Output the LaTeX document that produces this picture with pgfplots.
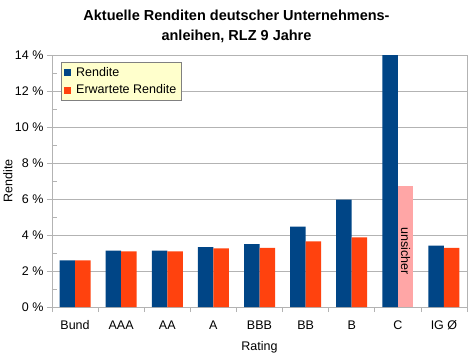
\documentclass[border=0pt]{standalone}
\usepackage{pgfplots}
\pgfplotsset{compat=1.18}
\usepackage{fontspec}
\setmainfont{Liberation Sans}
\definecolor{cblue}{HTML}{004586}
\definecolor{corange}{HTML}{FF420E}
\definecolor{cpink}{HTML}{FFA6A6}
\definecolor{cgrid}{HTML}{B3B3B3}
\definecolor{clegend}{HTML}{FFFFCC}
\begin{document}
\begin{tikzpicture}
\begin{axis}[
  scale only axis, width=415pt, height=252pt,
  xmin=-0.5, xmax=8.5, ymin=0, ymax=14,
  ybar, bar width=15.5pt,
  xtick={0,...,8},
  xticklabels={Bund,AAA,AA,A,BBB,BB,B,C,IG Ø},
  minor xtick={-0.5,0.5,...,8.5},
  ytick={0,2,...,14}, minor ytick={1,3,...,13},
  xtick pos=bottom, ytick pos=left,
  yticklabel={\pgfmathprintnumber{\tick} \%},
  /pgf/number format/assume math mode=true,
  ymajorgrids, major grid style={cgrid, line width=0.7pt},
  axis line style={cgrid, line width=0.7pt},
  tick style={cgrid, line width=0.7pt},
  tick align=outside, major tick length=5pt, minor tick length=5pt,
  every major x tick/.append style={draw=none},
  every minor y tick/.append style={xshift=5pt},
  ticklabel style={font=\fontsize{12.5}{14}\selectfont},
  xticklabel style={yshift=-5pt},
  xlabel={Rating}, ylabel={Rendite},
  every axis y label/.style={at={(axis description cs:-0.106,0.5)}, anchor=center, rotate=90, font=\fontsize{12.5}{14}\selectfont},
  every axis x label/.style={at={(axis description cs:0.5,-0.16)}, anchor=center, font=\fontsize{12.5}{14}\selectfont},
  title={Aktuelle Renditen deutscher Unternehmens-\\anleihen, RLZ 9 Jahre},
  title style={at={(axis description cs:0.4446,1)}, anchor=south, yshift=3pt, align=center,
    font=\bfseries\fontsize{14.5}{19.5}\selectfont},
  legend style={at={(axis description cs:0.0217,0.972)}, anchor=north west,
    fill=clegend, draw=gray, font=\fontsize{12.5}{14}\selectfont,
    row sep=3pt, inner sep=3pt,
    /tikz/every odd column/.append style={column sep=3pt}},
  legend image code/.code={\fill[#1] (0pt,-3.5pt) rectangle (7pt,3.5pt);},
  legend cell align=left,
]
\addplot[fill=cblue, draw=none, bar shift=-7.75pt] coordinates {
  (0,2.59) (1,3.13) (2,3.13) (3,3.32) (4,3.50) (5,4.46) (6,5.96) (7,15) (8,3.41)};
\addplot[fill=corange, draw=none, bar shift=7.75pt] coordinates {
  (0,2.59) (1,3.09) (2,3.09) (3,3.26) (4,3.28) (5,3.65) (6,3.87) (8,3.28)};
\addplot[fill=cpink, draw=none, bar shift=7.75pt, forget plot] coordinates {(7,6.72)};
\legend{Rendite, Erwartete Rendite}
\node[rotate=-90, font=\fontsize{12.5}{14}\selectfont] at ([xshift=7.75pt]axis cs:7,3.1) {unsicher};
\end{axis}
\path (current axis.south west) ++(-52pt,-49pt) coordinate (bl);
\path (current axis.north east) ++(6pt,55pt) coordinate (tr);
\path (bl) rectangle (tr);
\end{tikzpicture}
\end{document}
